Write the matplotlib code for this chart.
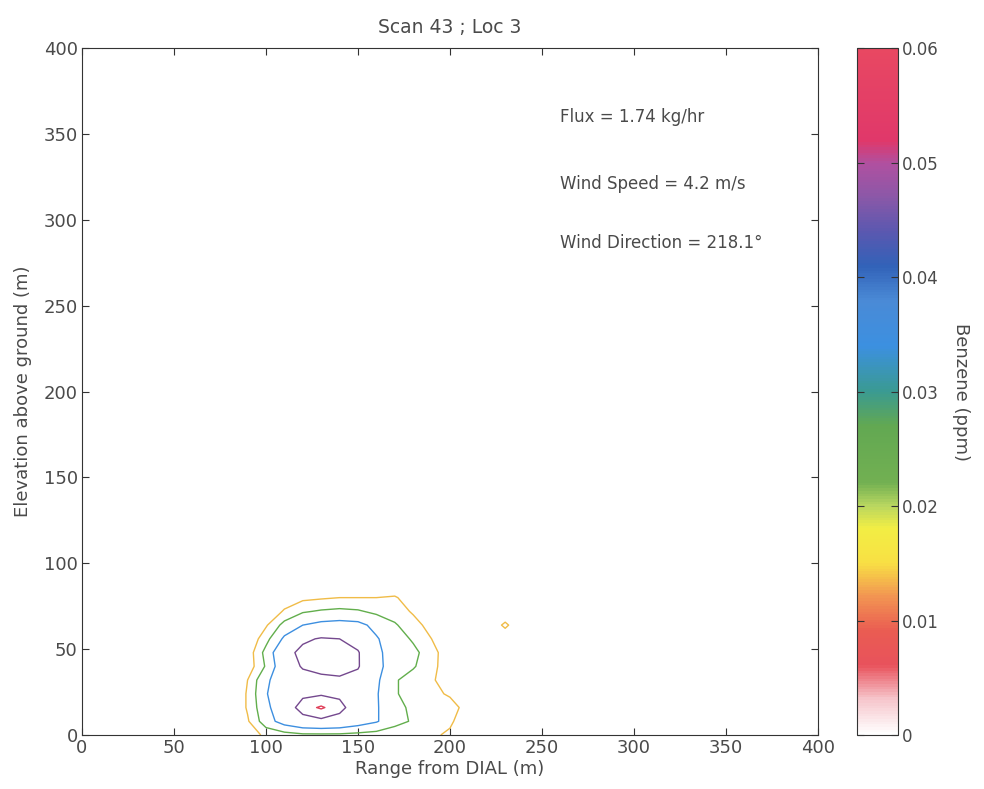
import numpy as np
import matplotlib
matplotlib.use('Agg')
import matplotlib.pyplot as plt
from matplotlib.colors import LinearSegmentedColormap, Normalize

plt.rcParams['font.family'] = ['DejaVu Sans']

# Benzene concentration grid (ppm x 1000)
range_m = [80, 90, 100, 110, 120, 130, 140, 150, 160, 170, 180, 190, 200, 210, 220, 230, 240]
elev_m = [0, 8, 16, 24, 32, 40, 48, 56, 64, 72, 80, 88]
conc_ppb = [
    [2, 8, 15, 17, 19, 19, 19, 18, 17, 16, 15, 14, 12, 6, 2, 0, 0],
    [3, 12, 26, 36, 42, 44, 42, 37, 32, 24, 20, 16, 14, 9, 3, 0, 0],
    [3, 14, 28, 40, 50, 54, 49, 40, 32, 24, 19, 18, 16, 10, 3, 0, 0],
    [3, 14, 30, 42, 44, 45, 44, 40, 32, 22, 17, 15, 12, 6, 2, 0, 0],
    [3, 13, 29, 38, 42, 43, 44, 42, 33, 22, 17, 14, 9, 4, 1, 0, 0],
    [3, 8, 22, 40, 47, 50, 51, 47, 34, 26, 22, 15, 9, 4, 1, 0, 0],
    [2, 8, 24, 42, 49, 51, 50, 47, 33, 27, 23, 17, 6, 3, 1, 0, 0],
    [2, 6, 18, 33, 44, 47, 46, 41, 32, 25, 20, 13, 5, 2, 1, 3, 0],
    [1, 4, 12, 24, 31, 34, 35, 34, 28, 22, 16, 10, 4, 1, 1, 16, 0],
    [0, 2, 6, 14, 20, 22, 23, 22, 19, 17, 12, 6, 2, 1, 0, 2, 0],
    [0, 1, 3, 8, 11, 12, 13, 13, 13, 14, 8, 3, 1, 0, 0, 0, 0],
    [0, 0, 1, 2, 3, 4, 4, 4, 4, 5, 2, 1, 0, 0, 0, 0, 0],
]
levels = [0.013, 0.021, 0.031, 0.046, 0.053]
level_colors = ['#f0bc48', '#62ae4c', '#3d8fe0', '#74488e', '#e0405a']

cbar_ticks = [0, 0.01, 0.02, 0.03, 0.04, 0.05, 0.06]
cmap_pos = [0.0, 0.003, 0.006, 0.009, 0.012, 0.015, 0.018, 0.020, 0.022, 0.027,
            0.030, 0.034, 0.038, 0.041, 0.044, 0.047, 0.050, 0.052, 0.060]
cmap_cols = ['#ffffff', '#f6c6cc', '#e8525c', '#ea5c52', '#f29452', '#f8e044',
             '#f2ee44', '#b8d660', '#72b052', '#62a852', '#3a9a92', '#3c90e0',
             '#4a8ad6', '#3262b8', '#5a58b0', '#8a58a8', '#b050a0', '#e0386a', '#e84862']

txt_color = '#4a4a4a'

cmap = LinearSegmentedColormap.from_list(
    'benz', list(zip(np.array(cmap_pos) / 0.06, cmap_cols)))

fig = plt.figure(figsize=(9.84, 7.89), dpi=100)
ax = fig.add_axes([0.0833, 0.0684, 0.748, 0.8707])
cax = fig.add_axes([0.871, 0.0684, 0.0417, 0.8707])

X, Y = np.meshgrid(range_m, elev_m)
Z = np.array(conc_ppb) / 1000.0
ax.contour(X, Y, Z, levels=levels, colors=level_colors, linewidths=1.0)

ax.set_xlim(0, 400)
ax.set_ylim(0, 400)
ax.set_xticks(np.arange(0, 401, 50))
ax.set_yticks(np.arange(0, 401, 50))
ax.tick_params(direction='in', top=True, right=True, length=5, pad=3,
               labelsize=13, colors='#333333', labelcolor=txt_color)
for s in ax.spines.values():
    s.set_color('#333333')
ax.set_xlabel('Range from DIAL (m)', fontsize=13, color=txt_color, labelpad=2)
ax.set_ylabel('Elevation above ground (m)', fontsize=13, color=txt_color, labelpad=8)
ax.set_title('Scan 43 ; Loc 3', fontsize=13.5, color=txt_color, pad=11)

ax.text(260, 360, 'Flux = 1.74 kg/hr', fontsize=12, color=txt_color, va='center')
ax.text(260, 321, 'Wind Speed = 4.2 m/s', fontsize=12, color=txt_color, va='center')
ax.text(260, 286.5, 'Wind Direction = 218.1\u00b0', fontsize=12, color=txt_color, va='center')

sm = plt.cm.ScalarMappable(cmap=cmap, norm=Normalize(0, 0.06))
cb = fig.colorbar(sm, cax=cax)
cb.set_ticks(cbar_ticks)
cb.set_ticklabels(['0', '0.01', '0.02', '0.03', '0.04', '0.05', '0.06'])
cax.tick_params(direction='in', left=True, right=True, length=5, pad=3,
                labelsize=12, colors='#333333', labelcolor=txt_color)
cb.outline.set_edgecolor('#333333')
cb.set_label('Benzene (ppm)', fontsize=13, color=txt_color, rotation=-90, labelpad=22)

fig.savefig('out.png', dpi=100)
